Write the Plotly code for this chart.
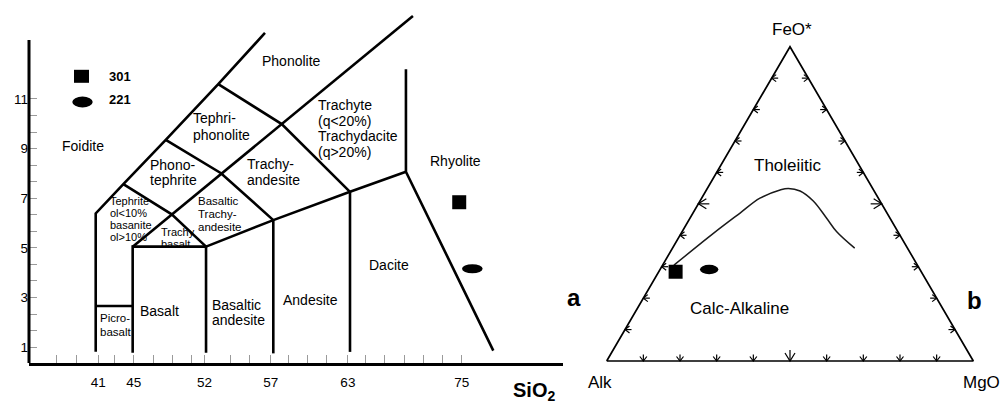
import numpy as np
import plotly.graph_objects as go

W, H = 1000, 405
FONT = "Liberation Sans, Arial, sans-serif"

# ---------------- TAS diagram data (SiO2 vs Na2O+K2O, wt%) ----------------
# The source diagram is not drawn to a uniform scale; every value below is
# read off the picture against one linear axis.
FOIDITE_EDGE_SIO2 = [41.28, 41.28, 43.77, 47.59, 52.32, 56.53]
FOIDITE_EDGE_ALK = [0.82, 6.39, 7.57, 9.35, 11.60, 13.66]
PICROBASALT_TOP_SIO2 = [41.28, 44.61]
PICROBASALT_TOP_ALK = [2.66, 2.66]
BASALT_SIO2 = [44.61, 44.61, 51.22, 51.22]
BASALT_ALK = [0.78, 5.05, 5.05, 0.78]
MAIN_DIAGONAL_SIO2 = [44.61, 69.86]
MAIN_DIAGONAL_ALK = [5.05, 14.34]
TEPHRITE_TOP_SIO2 = [43.77, 48.13, 51.22]
TEPHRITE_TOP_ALK = [7.57, 6.35, 5.05]
SUBALKALINE_TOP_SIO2 = [51.22, 57.28, 64.19, 69.23]
SUBALKALINE_TOP_ALK = [5.05, 6.12, 7.26, 8.07]
LINE_57_SIO2 = [57.28, 57.28]
LINE_57_ALK = [6.12, 0.75]
LINE_63_SIO2 = [64.19, 64.19]
LINE_63_ALK = [7.26, 0.81]
RHYOLITE_EDGE_SIO2 = [69.23, 69.23, 77.10]
RHYOLITE_EDGE_ALK = [12.20, 8.07, 0.86]
PHONOTEPHRITE_TOP_SIO2 = [47.59, 52.57, 57.28]
PHONOTEPHRITE_TOP_ALK = [9.35, 8.01, 6.12]
TEPHRIPHONOLITE_TOP_SIO2 = [52.32, 58.04, 64.19]
TEPHRIPHONOLITE_TOP_ALK = [11.60, 9.99, 7.26]

TAS_X_TICK_TEXT = ["41", "45", "52", "57", "63", "75"]
TAS_X_TICK_AT = [41.52, 44.71, 51.08, 57.05, 64.0, 74.25]
TAS_Y_TICKS = [1, 3, 5, 7, 9, 11]

SAMPLE_IDS = ["301", "221"]
SAMPLE_SIO2 = [74.03, 75.21]
SAMPLE_TAS_ALK = [6.84, 4.16]

# ---------------- AFM diagram data (wt%) ----------------
SAMPLE_FEO = [28.4, 29.1]
SAMPLE_AFM_ALK = [67.0, 57.5]
SAMPLE_MGO = [4.6, 13.4]

BOUNDARY_FEO = [30.5, 40.6, 47.0, 51.8, 54.4, 54.9, 54.1, 50.9, 45.5, 41.1, 35.9]
BOUNDARY_ALK = [66.4, 50.6, 40.2, 32.3, 25.5, 23.0, 20.2, 18.2, 17.3, 16.7, 14.4]
BOUNDARY_MGO = [3.1, 8.8, 12.8, 15.9, 20.1, 22.1, 25.7, 30.9, 37.2, 42.2, 49.7]

AFM_TICKS = [10, 20, 30, 40, 50, 60, 70, 80, 90]

# ---------------- layout geometry ----------------
TAS_X_DOMAIN = [0.029, 0.563]
TAS_X_RANGE = [35.27, 83.38]
TAS_Y_DOMAIN = [1 - 363 / H, 1.0]
TAS_Y_RANGE = [0.3626, 14.988]
TAS_Y_AXIS_TOP = 13.376

AFM_X_DOMAIN = [0.58, 1.0]
AFM_X_RANGE = [-0.0728, 1.0728]
AFM_Y_DOMAIN = [0.0, 1.0]
AFM_Y_RANGE = [-0.14, 1.1486]
AFM_SX = (AFM_X_DOMAIN[1] - AFM_X_DOMAIN[0]) * W / (AFM_X_RANGE[1] - AFM_X_RANGE[0])
AFM_SY = (AFM_Y_DOMAIN[1] - AFM_Y_DOMAIN[0]) * H / (AFM_Y_RANGE[1] - AFM_Y_RANGE[0])


def afm_xy(feo, alk, mgo):
    feo, alk, mgo = (np.asarray(v, dtype=float) for v in (feo, alk, mgo))
    tot = feo + alk + mgo
    return (mgo + feo / 2) / tot, feo / tot


def joined(pairs):
    xs, ys = [], []
    for x, y in pairs:
        xs += list(x) + [None]
        ys += list(y) + [None]
    return xs, ys


fig = go.Figure()

# ---- TAS boundaries
bx, by = joined([
    (FOIDITE_EDGE_SIO2, FOIDITE_EDGE_ALK),
    (PICROBASALT_TOP_SIO2, PICROBASALT_TOP_ALK),
    (BASALT_SIO2, BASALT_ALK),
    (MAIN_DIAGONAL_SIO2, MAIN_DIAGONAL_ALK),
    (TEPHRITE_TOP_SIO2, TEPHRITE_TOP_ALK),
    (SUBALKALINE_TOP_SIO2, SUBALKALINE_TOP_ALK),
    (LINE_57_SIO2, LINE_57_ALK),
    (LINE_63_SIO2, LINE_63_ALK),
    (RHYOLITE_EDGE_SIO2, RHYOLITE_EDGE_ALK),
    (PHONOTEPHRITE_TOP_SIO2, PHONOTEPHRITE_TOP_ALK),
    (TEPHRIPHONOLITE_TOP_SIO2, TEPHRIPHONOLITE_TOP_ALK),
])
fig.add_trace(go.Scatter(x=bx, y=by, mode="lines", xaxis="x", yaxis="y",
                         line=dict(color="black", width=2.6), hoverinfo="skip",
                         showlegend=False))

# sample 301 (square) on TAS
fig.add_trace(go.Scatter(x=[SAMPLE_SIO2[0]], y=[SAMPLE_TAS_ALK[0]], mode="markers",
                         xaxis="x", yaxis="y", name=SAMPLE_IDS[0],
                         marker=dict(symbol="square", size=14, color="black"),
                         showlegend=False))

# ---- AFM triangle frame from the three pure end-members
fx, fy = afm_xy([0, 100, 0, 0], [100, 0, 0, 100], [0, 0, 100, 0])
fig.add_trace(go.Scatter(x=fx, y=fy, mode="lines", xaxis="x2", yaxis="y2",
                         line=dict(color="black", width=1.7), hoverinfo="skip",
                         showlegend=False))

# arrow-like tick marks on the three edges
def edge_arrows():
    xs, ys = [], []
    for t in AFM_TICKS:
        big = t == 50
        d, hw, L = (8, 5, 11) if big else (4.5, 3.5, 6.5)
        for edge in ("bottom", "left", "right"):
            if edge == "bottom":
                X, Y = afm_xy([0], [100 - t], [t])
                dx, dy = 0, -1
            elif edge == "left":
                X, Y = afm_xy([t], [100 - t], [0])
                dx, dy = -1, 0
            else:
                X, Y = afm_xy([t], [0], [100 - t])
                dx, dy = 1, 0
            X, Y = float(X[0]), float(Y[0])
            px, py = -dy, dx
            a1 = (X + (-dx * d + px * hw) / AFM_SX, Y + (-dy * d + py * hw) / AFM_SY)
            a2 = (X + (-dx * d - px * hw) / AFM_SX, Y + (-dy * d - py * hw) / AFM_SY)
            st = (X - dx * L / AFM_SX, Y - dy * L / AFM_SY)
            xs += [a1[0], X, a2[0], None, X, st[0], None]
            ys += [a1[1], Y, a2[1], None, Y, st[1], None]
    return xs, ys


ax_, ay_ = edge_arrows()
fig.add_trace(go.Scatter(x=ax_, y=ay_, mode="lines", xaxis="x2", yaxis="y2",
                         line=dict(color="black", width=1.2), hoverinfo="skip",
                         showlegend=False))

# Irvine & Baragar tholeiitic / calc-alkaline divide
cx, cy = afm_xy(BOUNDARY_FEO, BOUNDARY_ALK, BOUNDARY_MGO)
fig.add_trace(go.Scatter(x=cx, y=cy, mode="lines", xaxis="x2", yaxis="y2",
                         line=dict(color="#1a1a1a", width=1.5, shape="spline", smoothing=1.0),
                         hoverinfo="skip", showlegend=False))

sx, sy = afm_xy(SAMPLE_FEO, SAMPLE_AFM_ALK, SAMPLE_MGO)
fig.add_trace(go.Scatter(x=[sx[0]], y=[sy[0]], mode="markers", xaxis="x2", yaxis="y2",
                         name=SAMPLE_IDS[0],
                         marker=dict(symbol="square", size=14, color="black"),
                         showlegend=False))

shapes = [
    # TAS y-axis line (stops below the boundary lines that run off the top)
    dict(type="line", xref="x domain", yref="y", x0=0, x1=0,
         y0=TAS_Y_RANGE[0], y1=TAS_Y_AXIS_TOP, line=dict(color="black", width=3)),
    # sample 221 ellipses
    dict(type="circle", xref="x", yref="y", xsizemode="pixel", ysizemode="pixel",
         xanchor=SAMPLE_SIO2[1], yanchor=SAMPLE_TAS_ALK[1],
         x0=-10.3, x1=10.3, y0=-4.6, y1=4.6, fillcolor="black", line=dict(width=0)),
    dict(type="circle", xref="x2", yref="y2", xsizemode="pixel", ysizemode="pixel",
         xanchor=float(sx[1]), yanchor=float(sy[1]),
         x0=-9.2, x1=9.2, y0=-4.7, y1=4.7, fillcolor="black", line=dict(width=0)),
    # key symbols
    dict(type="rect", xref="paper", yref="paper", x0=74 / W, x1=89 / W,
         y0=1 - 82.8 / H, y1=1 - 69.8 / H, fillcolor="black", line=dict(width=0)),
    dict(type="circle", xref="paper", yref="paper", x0=72.3 / W, x1=92.7 / W,
         y0=1 - 107.4 / H, y1=1 - 96.6 / H, fillcolor="black", line=dict(width=0)),
]

annotations = []


def label(lines, x, y, size, spacing=0, anchor="left", xref="x", yref="y", bold=False):
    n = len(lines)
    for i, t in enumerate(lines):
        annotations.append(dict(
            text=f"<b>{t}</b>" if bold else t, x=x, y=y, xref=xref, yref=yref,
            xanchor=anchor, yanchor="middle", yshift=((n - 1) / 2 - i) * spacing,
            showarrow=False, borderpad=0, borderwidth=0,
            font=dict(size=size, family=FONT, color="black")))


label(["Foidite"], 40.09, 9.12, 14, anchor="center")
label(["Phonolite"], 58.94, 12.54, 14, anchor="center")
label(["Tephri-", "phonolite"], 50.07, 9.88, 14, 16.7)
label(["Phono-", "tephrite"], 46.17, 8.04, 14, 15.5)
label(["Trachy-", "andesite"], 54.88, 8.06, 14, 16)
label(["Trachyte", "(q&lt;20%)", "Trachydacite", "(q&gt;20%)"], 61.33, 9.82, 14, 15.5)
label(["Rhyolite"], 73.65, 8.50, 14, anchor="center")
label(["Dacite"], 67.70, 4.31, 14, anchor="center")
label(["Andesite"], 60.63, 2.90, 14, anchor="center")
label(["Basaltic", "andesite"], 51.73, 2.40, 14, 15)
label(["Basalt"], 47.03, 2.47, 14, anchor="center")
label(["Picro-", "basalt"], 41.67, 1.88, 11.5, 14)
label(["Tephrite", "ol&lt;10%", "basanite", "ol&gt;10%"], 42.57, 6.16, 11, 12.2)
label(["Trachy", "basalt"], 47.16, 5.39, 11, 12)
label(["Basaltic", "Trachy-", "andesite"], 50.52, 6.37, 11.5, 13.3)

# key text
label([SAMPLE_IDS[0]], 109 / W, 1 - 76.7 / H, 13, xref="paper", yref="paper", bold=True)
label([SAMPLE_IDS[1]], 109 / W, 1 - 99.3 / H, 13, xref="paper", yref="paper", bold=True)

# panel letters and axis title
label(["a"], 574 / W, 1 - 297 / H, 24, anchor="center", xref="paper", yref="paper", bold=True)
label(["b"], 974 / W, 1 - 300 / H, 24, anchor="center", xref="paper", yref="paper", bold=True)
label(["SiO<sub>2</sub>"], 534 / W, 1 - 391 / H, 20, anchor="center",
      xref="paper", yref="paper", bold=True)

# AFM labels
label(["FeO*"], 0.5053, 1.0554, 17, anchor="center", xref="x2", yref="y2")
label(["Tholeiitic"], 0.4952, 0.6214, 17, anchor="center", xref="x2", yref="y2")
label(["Calc-Alkaline"], 0.3635, 0.1677, 17, anchor="center", xref="x2", yref="y2")
label(["Alk"], -0.0183, -0.069, 17, anchor="center", xref="x2", yref="y2")
label(["MgO"], 1.022, -0.069, 17, anchor="center", xref="x2", yref="y2")

TICK_GREY = "#9a9a9a"
x_minor = [v for v in np.arange(37.77, 74.4, 1.739)
           if min(abs(v - m) for m in TAS_X_TICK_AT) > 0.7]
y_minor = [v for v in np.arange(1, 11.01, 2 / 3)
           if min(abs(v - m) for m in TAS_Y_TICKS) > 0.1]

fig.update_layout(
    width=W, height=H, margin=dict(l=0, r=0, t=0, b=0),
    paper_bgcolor="white", plot_bgcolor="white", showlegend=False,
    font=dict(family=FONT, color="black"),
    xaxis=dict(domain=TAS_X_DOMAIN, range=TAS_X_RANGE, anchor="y",
               showline=True, linewidth=3, linecolor="black",
               showgrid=False, zeroline=False,
               tickmode="array", tickvals=TAS_X_TICK_AT, ticktext=TAS_X_TICK_TEXT,
               ticks="inside", ticklen=8, tickwidth=1, tickcolor=TICK_GREY,
               tickfont=dict(size=13.5, family=FONT, color="black"),
               ticklabelstandoff=5,
               minor=dict(tickmode="array", tickvals=x_minor, ticks="inside",
                          ticklen=8, tickwidth=1, tickcolor=TICK_GREY, showgrid=False)),
    yaxis=dict(domain=TAS_Y_DOMAIN, range=TAS_Y_RANGE, anchor="x",
               showline=False, showgrid=False, zeroline=False,
               tickmode="array", tickvals=TAS_Y_TICKS,
               ticks="inside", ticklen=8, tickwidth=1, tickcolor=TICK_GREY,
               tickfont=dict(size=13.5, family=FONT, color="black"),
               minor=dict(tickmode="array", tickvals=y_minor, ticks="inside",
                          ticklen=8, tickwidth=1, tickcolor=TICK_GREY, showgrid=False)),
    xaxis2=dict(domain=AFM_X_DOMAIN, range=AFM_X_RANGE, anchor="y2", visible=False),
    yaxis2=dict(domain=AFM_Y_DOMAIN, range=AFM_Y_RANGE, anchor="x2", visible=False),
    shapes=shapes,
    annotations=annotations,
)

fig.write_html("out.html", config={"displayModeBar": False},
               post_script="document.body.style.margin='0';"
                           "document.body.style.overflow='hidden';")
